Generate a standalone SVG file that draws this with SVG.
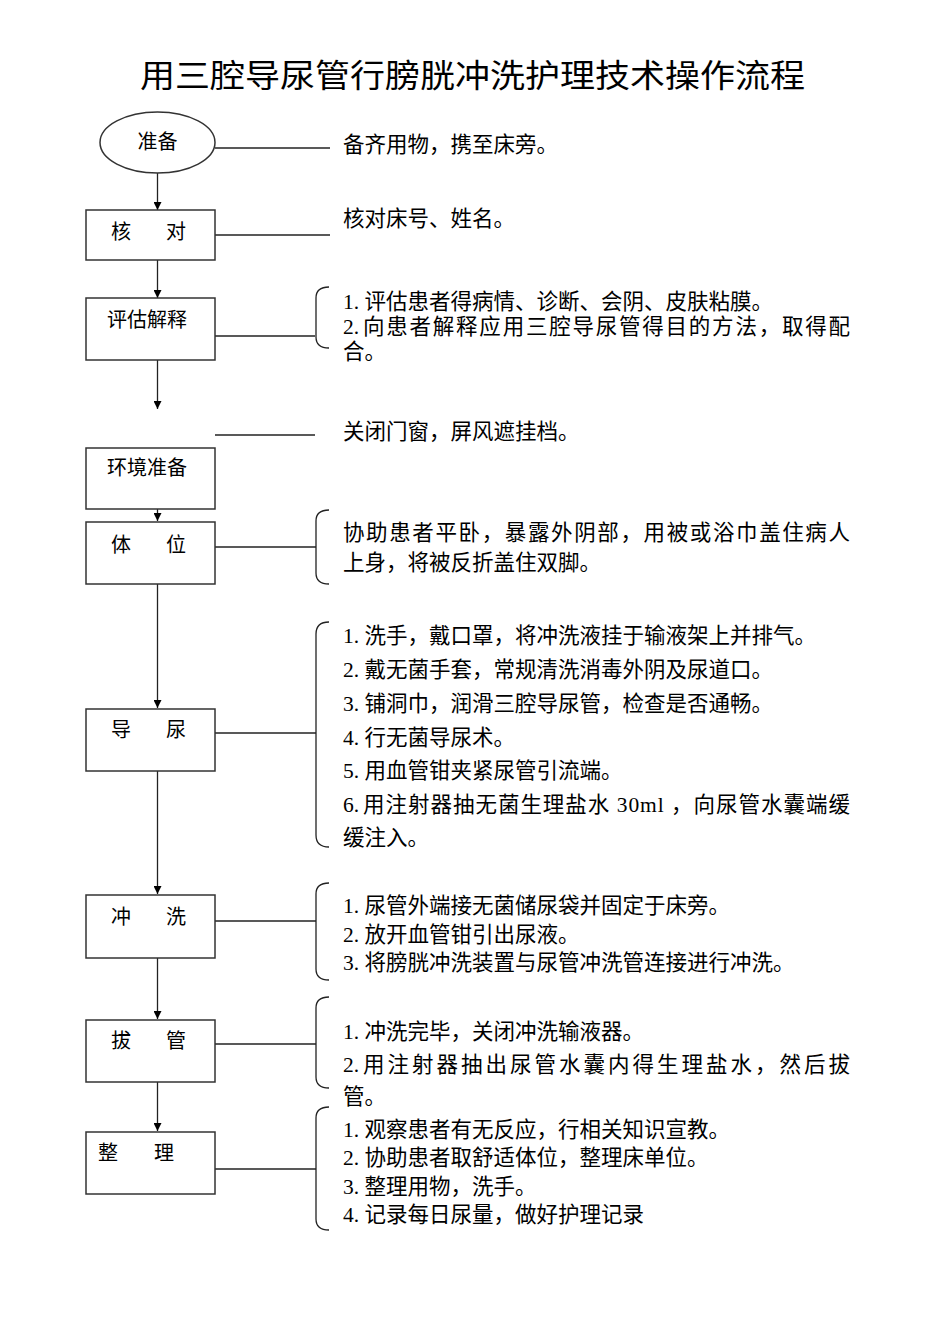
<svg xmlns="http://www.w3.org/2000/svg" width="950" height="1344" viewBox="0 0 950 1344">
<defs>
<style>
text{font-family:"Liberation Serif","Noto Sans CJK SC",serif;fill:#000;}
.t{font-size:21.5px;}
.n{font-size:20px;}
.title{font-size:32px;}
.box{fill:#fff;stroke:#333;stroke-width:1.5;}
.ln{stroke:#222;stroke-width:1.3;fill:none;}
.br{stroke:#222;stroke-width:1.3;fill:none;}
</style>
<marker id="ah" viewBox="0 0 10 10" refX="10" refY="5" markerWidth="8" markerHeight="8" markerUnits="userSpaceOnUse" orient="auto">
<path d="M0,0 L10,5 L0,10 Z" fill="#000"/>
</marker>
</defs>
<rect width="950" height="1344" fill="#fff"/>
<text class="title" x="140" y="87" textLength="665" lengthAdjust="spacingAndGlyphs">用三腔导尿管行膀胱冲洗护理技术操作流程</text>

<g id="connectors">
<line class="ln" x1="157.5" y1="173" x2="157.5" y2="210" marker-end="url(#ah)"/>
<line class="ln" x1="157.5" y1="260" x2="157.5" y2="298" marker-end="url(#ah)"/>
<line class="ln" x1="157.5" y1="360" x2="157.5" y2="409" marker-end="url(#ah)"/>
<line class="ln" x1="157.5" y1="509" x2="157.5" y2="521" marker-end="url(#ah)"/>
<line class="ln" x1="157.5" y1="584" x2="157.5" y2="708" marker-end="url(#ah)"/>
<line class="ln" x1="157.5" y1="771" x2="157.5" y2="894" marker-end="url(#ah)"/>
<line class="ln" x1="157.5" y1="958" x2="157.5" y2="1019" marker-end="url(#ah)"/>
<line class="ln" x1="157.5" y1="1082" x2="157.5" y2="1131" marker-end="url(#ah)"/>
<line class="ln" x1="215" y1="148" x2="330" y2="148"/>
<line class="ln" x1="215" y1="235" x2="330" y2="235"/>
<line class="ln" x1="215" y1="336" x2="315" y2="336"/>
<line class="ln" x1="215" y1="435" x2="315" y2="435"/>
<line class="ln" x1="215" y1="547" x2="316" y2="547"/>
<line class="ln" x1="215" y1="733" x2="316" y2="733"/>
<line class="ln" x1="215" y1="921" x2="316" y2="921"/>
<line class="ln" x1="215" y1="1044" x2="316" y2="1044"/>
<line class="ln" x1="215" y1="1169" x2="316" y2="1169"/>
<path class="br" d="M329,287 Q316,287 316,298 L316,337 Q316,348 329,348"/>
<path class="br" d="M329,510 Q316,510 316,521 L316,573 Q316,584 329,584"/>
<path class="br" d="M329,622 Q316,622 316,634 L316,835 Q316,847 329,847"/>
<path class="br" d="M329,883 Q316,883 316,894 L316,969 Q316,980 329,980"/>
<path class="br" d="M329,997 Q316,997 316,1008 L316,1077 Q316,1088 329,1088"/>
<path class="br" d="M329,1107 Q316,1107 316,1118 L316,1219 Q316,1230 329,1230"/>
</g>

<g id="n-prepare">
<ellipse class="box" cx="157.5" cy="142.5" rx="57.5" ry="30.5"/>
<text class="n" x="157.5" y="149" text-anchor="middle">准备</text>
</g>
<g id="n-check">
<rect class="box" x="86" y="210" width="129" height="50"/>
<text class="n" x="111" y="239">核</text>
<text class="n" x="166" y="239">对</text>
</g>
<g id="n-assess">
<rect class="box" x="86" y="298" width="129" height="62"/>
<text class="n" x="107" y="327">评估解释</text>
</g>
<g id="n-env">
<rect class="box" x="86" y="448" width="129" height="61"/>
<text class="n" x="107" y="475">环境准备</text>
</g>
<g id="n-position">
<rect class="box" x="86" y="522" width="129" height="62"/>
<text class="n" x="111" y="552">体</text>
<text class="n" x="166" y="552">位</text>
</g>
<g id="n-cath">
<rect class="box" x="86" y="709" width="129" height="62"/>
<text class="n" x="111" y="737">导</text>
<text class="n" x="166" y="737">尿</text>
</g>
<g id="n-flush">
<rect class="box" x="86" y="895" width="129" height="63"/>
<text class="n" x="111" y="924">冲</text>
<text class="n" x="166" y="924">洗</text>
</g>
<g id="n-remove">
<rect class="box" x="86" y="1020" width="129" height="62"/>
<text class="n" x="111" y="1048">拔</text>
<text class="n" x="166" y="1048">管</text>
</g>
<g id="n-tidy">
<rect class="box" x="86" y="1132" width="129" height="62"/>
<text class="n" x="98" y="1160">整</text>
<text class="n" x="154" y="1160">理</text>
</g>

<g id="notes">
<text class="t" x="343" y="152">备齐用物，携至床旁。</text>
<text class="t" x="343" y="226">核对床号、姓名。</text>
<text class="t" x="343" y="309">1. 评估患者得病情、诊断、会阴、皮肤粘膜。</text>
<text class="t" x="343" y="334">2.</text><text class="t" x="363" y="334" textLength="487" lengthAdjust="spacing">向患者解释应用三腔导尿管得目的方法，取得配</text>
<text class="t" x="343" y="359">合。</text>
<text class="t" x="343" y="439">关闭门窗，屏风遮挂档。</text>
<text class="t" x="343" y="540" textLength="507" lengthAdjust="spacing">协助患者平卧，暴露外阴部，用被或浴巾盖住病人</text>
<text class="t" x="343" y="570">上身，将被反折盖住双脚。</text>
<text class="t" x="343" y="643">1. 洗手，戴口罩，将冲洗液挂于输液架上并排气。</text>
<text class="t" x="343" y="677">2. 戴无菌手套，常规清洗消毒外阴及尿道口。</text>
<text class="t" x="343" y="711">3. 铺洞巾，润滑三腔导尿管，检查是否通畅。</text>
<text class="t" x="343" y="745">4. 行无菌导尿术。</text>
<text class="t" x="343" y="778">5. 用血管钳夹紧尿管引流端。</text>
<text class="t" x="343" y="812">6.</text><text class="t" x="363" y="812" textLength="487" lengthAdjust="spacing">用注射器抽无菌生理盐水 30ml ，向尿管水囊端缓</text>
<text class="t" x="343" y="845">缓注入。</text>
<text class="t" x="343" y="913">1. 尿管外端接无菌储尿袋并固定于床旁。</text>
<text class="t" x="343" y="942">2. 放开血管钳引出尿液。</text>
<text class="t" x="343" y="970">3. 将膀胱冲洗装置与尿管冲洗管连接进行冲洗。</text>
<text class="t" x="343" y="1039">1. 冲洗完毕，关闭冲洗输液器。</text>
<text class="t" x="343" y="1072">2.</text><text class="t" x="363" y="1072" textLength="487" lengthAdjust="spacing">用注射器抽出尿管水囊内得生理盐水，然后拔</text>
<text class="t" x="343" y="1104">管。</text>
<text class="t" x="343" y="1137">1. 观察患者有无反应，行相关知识宣教。</text>
<text class="t" x="343" y="1165">2. 协助患者取舒适体位，整理床单位。</text>
<text class="t" x="343" y="1194">3. 整理用物，洗手。</text>
<text class="t" x="343" y="1222">4. 记录每日尿量，做好护理记录</text>
</g>
</svg>
